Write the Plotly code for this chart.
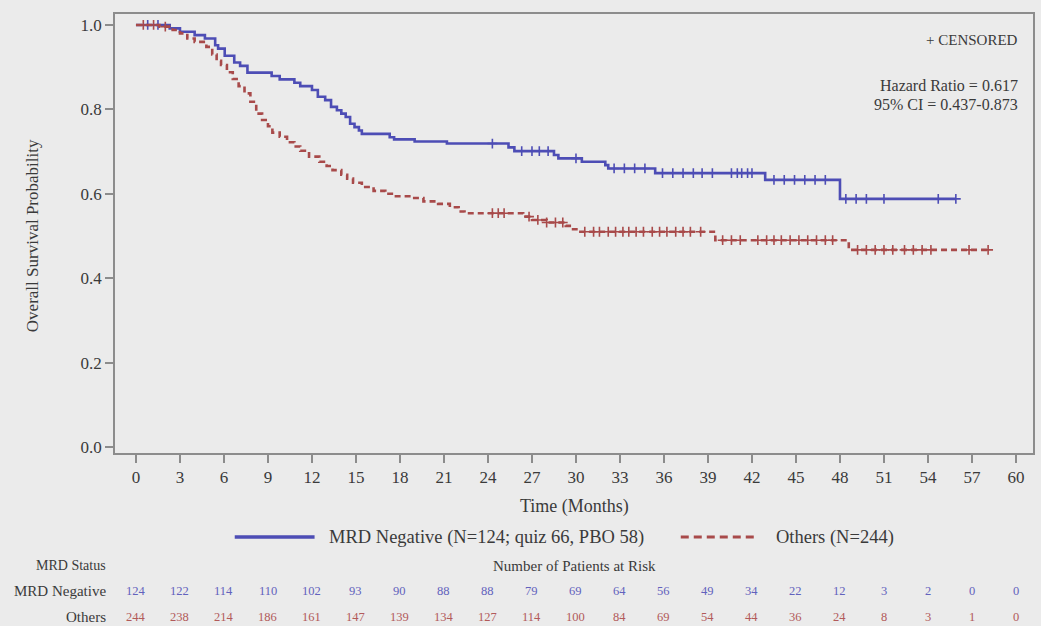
import numpy as np
import plotly.graph_objects as go

# Kaplan-Meier step estimates (event time in months, survival after the event)
mrd_neg_times = [0, 2.3, 3.0, 4.0, 4.7, 5.4, 5.6, 6.05, 6.7, 7.1, 7.6, 9.25, 9.8, 10.8, 11.2,
                 12.0, 12.4, 12.9, 13.3, 13.7, 14.0, 14.3, 14.6, 14.9, 15.2, 15.4, 17.3, 17.6,
                 19.0, 21.2, 25.4, 25.8, 28.5, 28.8, 30.4, 32.0, 32.2, 35.4, 42.9, 48.0]
mrd_neg_surv = [1.0, 0.992, 0.984, 0.976, 0.968, 0.952, 0.944, 0.927, 0.911, 0.903, 0.887,
                0.879, 0.871, 0.863, 0.855, 0.846, 0.830, 0.822, 0.806, 0.798, 0.790, 0.782,
                0.766, 0.758, 0.750, 0.742, 0.734, 0.729, 0.724, 0.719, 0.710, 0.701, 0.692,
                0.684, 0.676, 0.668, 0.660, 0.649, 0.633, 0.588]
mrd_neg_last = 55.9
mrd_neg_censored = [0.8, 1.5, 24.3, 26.3, 27.0, 27.5, 28.1, 30.0, 32.6, 33.3, 34.0, 34.7,
                    35.9, 36.6, 37.3, 38.0, 38.6, 39.3, 40.6, 41.0, 41.3, 41.7, 42.0, 43.5,
                    44.2, 44.9, 45.6, 46.3, 47.0, 48.4, 49.1, 49.8, 51.0, 54.7, 55.9]

others_times = [0, 1.6, 2.5, 3.0, 3.5, 4.0, 4.8, 5.2, 5.5, 5.8, 6.2, 6.6, 7.0, 7.4, 7.8, 8.2,
                8.6, 9.0, 9.3, 9.8, 10.3, 10.8, 11.2, 11.8, 12.5, 13.0, 13.4, 14.0, 14.4, 14.8,
                15.4, 16.2, 17.0, 17.6, 18.8, 19.6, 20.6, 21.4, 22.0, 22.4, 26.4, 27.0, 28.0,
                29.3, 29.8, 30.3, 39.5, 48.6]
others_surv = [1.0, 0.996, 0.988, 0.980, 0.968, 0.960, 0.948, 0.930, 0.915, 0.905, 0.888,
               0.872, 0.855, 0.838, 0.818, 0.790, 0.775, 0.760, 0.745, 0.735, 0.722, 0.712,
               0.702, 0.688, 0.676, 0.666, 0.656, 0.645, 0.636, 0.626, 0.616, 0.607, 0.600,
               0.594, 0.590, 0.582, 0.576, 0.568, 0.558, 0.554, 0.546, 0.538, 0.532, 0.524,
               0.516, 0.510, 0.490, 0.467]
others_last = 58.1
others_censored = [0.5, 1.2, 2.0, 24.3, 24.7, 25.1, 26.8, 27.4, 28.0, 28.6, 29.1, 30.6, 31.2,
                   31.6, 32.2, 32.7, 33.2, 33.6, 34.1, 34.6, 35.2, 35.7, 36.2, 36.8, 37.3,
                   37.8, 38.5, 40.0, 40.6, 41.2, 42.4, 43.0, 43.5, 44.0, 44.6, 45.2, 45.8,
                   46.4, 47.0, 47.5, 49.2, 49.8, 50.4, 51.0, 51.6, 52.4, 53.0, 53.6, 54.2,
                   56.8, 58.1]

# Number at risk table
risk_times = list(range(0, 61, 3))
risk_mrd_neg = [124, 122, 114, 110, 102, 93, 90, 88, 88, 79, 69, 64, 56, 49, 34, 22, 12, 3, 2, 0, 0]
risk_others = [244, 238, 214, 186, 161, 147, 139, 134, 127, 114, 100, 84, 69, 54, 44, 36, 24, 8, 3, 1, 0]

label_neg = "MRD Negative (N=124; quiz 66, PBO 58)"
label_oth = "Others (N=244)"

BLUE = "#4d4db5"
RED = "#a84a4a"
BLUE_TXT = "#6262bd"
RED_TXT = "#b25a5a"
BG = "#ebebeb"
AXIS = "#8c8c8c"
TXT = "#3a3a3a"
FONT = "Liberation Serif"


def step_value(times, surv, t):
    idx = np.searchsorted(np.asarray(times), t, side="right") - 1
    return surv[max(idx, 0)]


fig = go.Figure()

for times, surv, last, cens, color, dash, name in [
    (mrd_neg_times, mrd_neg_surv, mrd_neg_last, mrd_neg_censored, BLUE, "solid", label_neg),
    (others_times, others_surv, others_last, others_censored, RED, "6px,4px", label_oth),
]:
    fig.add_trace(go.Scatter(
        x=list(times) + [last], y=list(surv) + [surv[-1]],
        mode="lines", line=dict(color=color, width=2.6, dash=dash, shape="hv"),
        name=name, showlegend=False, hoverinfo="skip"))
    fig.add_trace(go.Scatter(
        x=cens, y=[step_value(times, surv, t) for t in cens],
        mode="markers",
        marker=dict(symbol="cross-thin-open", size=7, color=color,
                    line=dict(color=color, width=1.6)),
        showlegend=False, hoverinfo="skip"))

annotations = []
shapes = []


def ypix(py):
    # convert a pixel row of the page to paper coordinates
    return (453 - py) / 439


def xpix(px):
    return (px - 115) / 920


def note(text, px, py, size, xanchor="center", color=TXT, xref="paper", x=None, angle=0):
    annotations.append(dict(text=text, x=xpix(px) if x is None else x, y=ypix(py),
                            xref=xref, yref="paper", xanchor=xanchor, yanchor="middle",
                            textangle=angle, showarrow=False,
                            font=dict(size=size, color=color, family=FONT)))


# Axis titles
note("Time (Months)", 576, 506, 18)
note("Overall Survival Probability", 33, 236, 17, angle=-90)

# Top-right notes
note("+ CENSORED", 1022, 40, 15, xanchor="right")
note("Hazard Ratio = 0.617", 1022, 86, 16, xanchor="right")
note("95% CI = 0.437-0.873", 1022, 104, 16, xanchor="right")

# Legend
shapes.append(dict(type="line", xref="paper", yref="paper", x0=xpix(235), x1=xpix(315),
                   y0=ypix(537), y1=ypix(537), line=dict(color=BLUE, width=3.5)))
note(label_neg, 327, 537, 18.5, xanchor="left")
shapes.append(dict(type="line", xref="paper", yref="paper", x0=xpix(682), x1=xpix(760),
                   y0=ypix(537), y1=ypix(537), line=dict(color=RED, width=3, dash="8px,5px")))
note(label_oth, 775, 537, 18.5, xanchor="left")

# Number at risk table
note("MRD Status", 108, 565, 14, xanchor="right")
note("Number of Patients at Risk", 576, 566, 15)
note("MRD Negative", 108, 591, 15, xanchor="right")
note("Others", 108, 617, 15, xanchor="right")
for t, n1, n2 in zip(risk_times, risk_mrd_neg, risk_others):
    note(str(n1), 0, 591, 12.5, color=BLUE_TXT, xref="x", x=t)
    note(str(n2), 0, 617, 12.5, color=RED_TXT, xref="x", x=t)

fig.update_layout(
    width=1041, height=626,
    margin=dict(l=115, r=6, t=14, b=173),
    paper_bgcolor=BG, plot_bgcolor=BG,
    font=dict(family=FONT, color=TXT),
    showlegend=False,
    annotations=annotations,
    shapes=shapes,
    xaxis=dict(range=[-1.43, 61.16], tickmode="array", tickvals=risk_times,
               ticks="outside", ticklen=8, tickwidth=1.5, tickcolor=AXIS,
               showline=True, linecolor=AXIS, linewidth=1.8, mirror=True,
               showgrid=False, zeroline=False,
               tickfont=dict(size=17, color=TXT, family=FONT)),
    yaxis=dict(range=[-0.0142, 1.026], tickmode="array", tickvals=[0, 0.2, 0.4, 0.6, 0.8, 1.0],
               ticktext=["0.0", "0.2", "0.4", "0.6", "0.8", "1.0"],
               ticks="outside", ticklen=8, tickwidth=1.5, tickcolor=AXIS,
               showline=True, linecolor=AXIS, linewidth=1.8, mirror=True,
               showgrid=False, zeroline=False,
               tickfont=dict(size=17, color=TXT, family=FONT)),
)

fig.write_html("out.html")
